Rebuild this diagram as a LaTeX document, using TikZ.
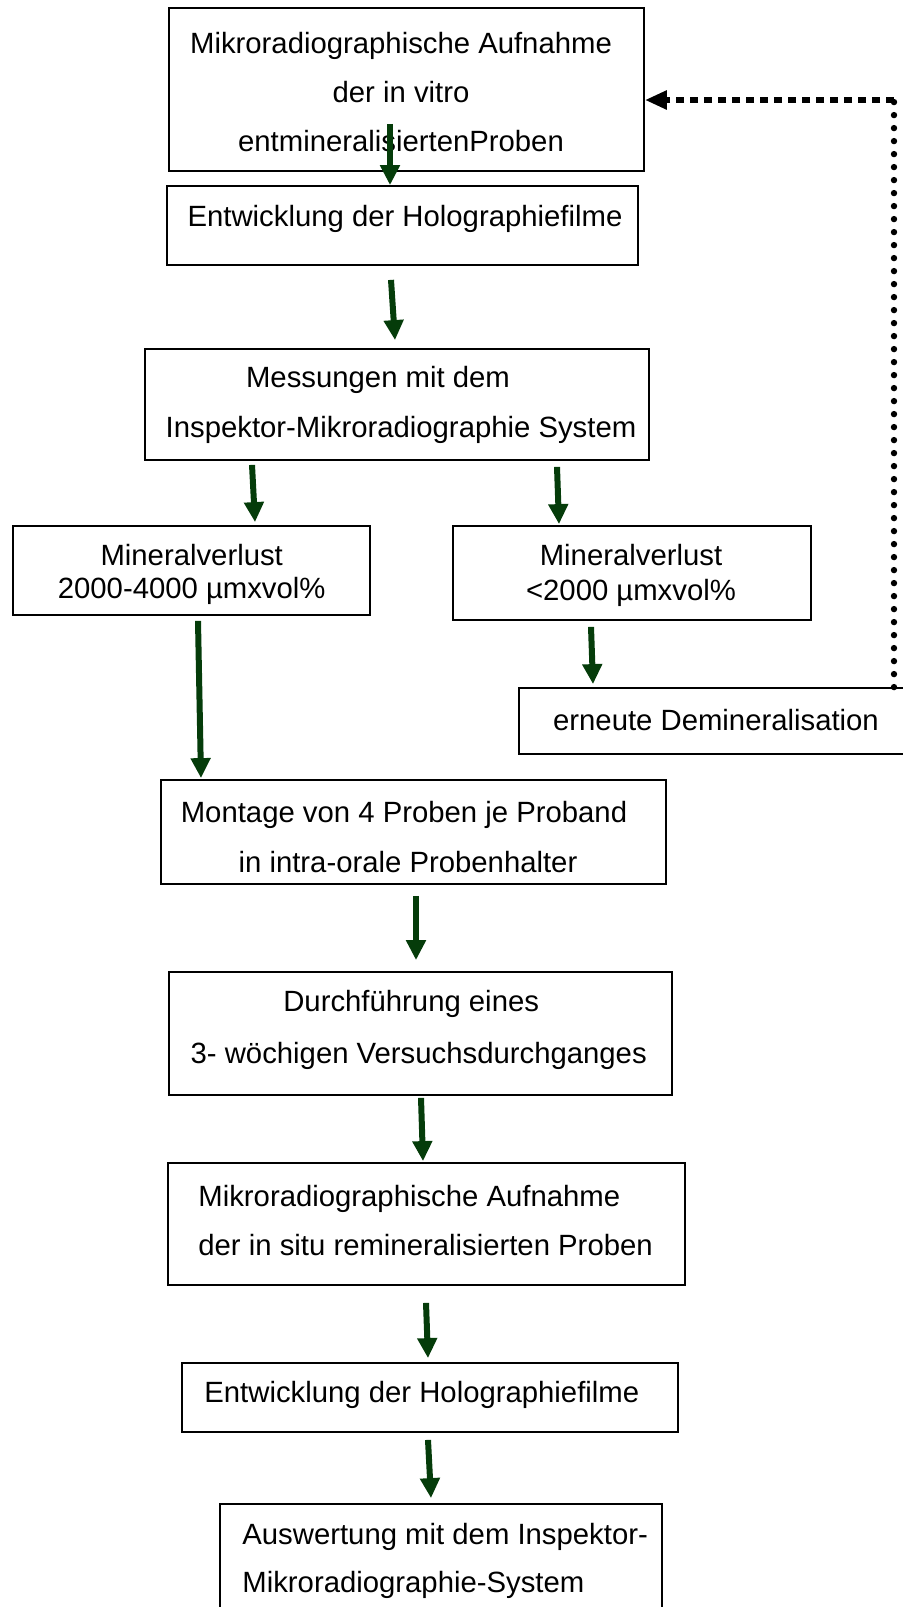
\documentclass[tikz,border=0pt]{standalone}
\usepackage{fontspec}
\setmainfont{Liberation Sans}
\usetikzlibrary{arrows.meta}
\definecolor{pfeilgruen}{RGB}{5,60,10}
\tikzset{
  kasten/.style={draw, line width=0.9pt, inner sep=0pt},
  beschr/.style={inner sep=0pt, yshift=-1.5pt},
  pfeil/.style={draw=pfeilgruen, line width=3pt, -{Triangle[length=10pt,width=9.5pt]}},
  punkte/.style={line width=3.2pt, line cap=round, dash pattern=on 0pt off 6.5pt},
  striche/.style={line width=3pt, dash pattern=on 4pt off 3pt, -{Triangle[length=11pt,width=9pt]}},
}
\begin{document}
\begin{tikzpicture}[x=0.5pt, y=-0.5pt]
      \useasboundingbox (0,0) rectangle (902,1607);
      % Kaesten
      \path
        (406.5,89.5) node[kasten, minimum width=237.5pt, minimum height=81.5pt] (mikro1){}
        (402.5,225.5) node[kasten, minimum width=235.5pt, minimum height=39.5pt] (holo1){}
        (397,404.5) node[kasten, minimum width=252pt, minimum height=55.5pt] (mess){}
        (191.5,570.5) node[kasten, minimum width=178.5pt, minimum height=44.5pt] (verlust1){}
        (632,573) node[kasten, minimum width=179pt, minimum height=47pt] (verlust2){}
        (717,721) node[kasten, minimum width=198pt, minimum height=33pt] (demin){}
        (413.5,832) node[kasten, minimum width=252.5pt, minimum height=52pt] (montage){}
        (420.5,1033.5) node[kasten, minimum width=251.5pt, minimum height=61.5pt] (versuch){}
        (426.5,1224) node[kasten, minimum width=258.5pt, minimum height=61pt] (mikro2){}
        (430,1397.5) node[kasten, minimum width=248pt, minimum height=34.5pt] (holo2){}
        (441,1560) node[kasten, minimum width=221pt, minimum height=56pt] (auswert){};
      % Texte
      \path
        (401,89) node[beschr, align=center, font=\fontsize{14.65}{24.5}\selectfont] (mikro1t)
          {Mikroradiographische Aufnahme\\der in vitro\hspace*{5pt}\\entmineralisiertenProben}
        (405,216) node[beschr, font=\fontsize{14.65}{17}\selectfont] (holo1t)
          {Entwicklung der Holographiefilme}
        (401,402) node[beschr, align=center, font=\fontsize{14.65}{25}\selectfont] (messt)
          {Messungen mit dem\hspace*{23pt}\\Inspektor-Mikroradiographie System}
        (191.7,571.5) node[beschr, align=center, font=\fontsize{14.65}{16.5}\selectfont] (verlust1t)
          {Mineralverlust\\2000-4000 µmxvol\%}
        (631,572.5) node[beschr, align=center, font=\fontsize{14.65}{17.5}\selectfont] (verlust2t)
          {Mineralverlust\\<2000 µmxvol\%}
        (716,717) node[beschr, font=\fontsize{14.65}{17}\selectfont] (demint)
          {erneute Demineralisation}
        (408,834) node[beschr, align=center, font=\fontsize{14.65}{25}\selectfont] (montaget)
          {Montage von 4 Proben je Proband\hspace*{4pt}\\in intra-orale Probenhalter}
        (418.7,1027) node[beschr, align=center, font=\fontsize{14.65}{26}\selectfont] (versucht)
          {Durchführung eines\hspace*{7.5pt}\\3- wöchigen Versuchsdurchganges}
        (198,1217.5) node[beschr, anchor=west, align=left, font=\fontsize{14.65}{24.5}\selectfont] (mikro2t)
          {Mikroradiographische Aufnahme\\der in situ remineralisierten Proben}
        (204,1392) node[beschr, anchor=west, font=\fontsize{14.65}{17}\selectfont] (holo2t)
          {Entwicklung der Holographiefilme}
        (242,1558) node[beschr, anchor=west, align=left, font=\fontsize{14.65}{24}\selectfont] (auswertt)
          {Auswertung mit dem Inspektor-\\Mikroradiographie-System};
      % Pfeile
      \begin{scope}[pfeil]
        \draw ([shift={(-16.5,-48)}]mikro1.south) to ([shift={(-12.5,0)}]holo1.north);
        \draw ([shift={(-11.5,14)}]holo1.south) to ([shift={(-2,-8)}]mess.north);
        \draw ([shift={(-145,4)}]mess.south) to ([shift={(63.5,-3)}]verlust1.north);
        \draw ([shift={(160,6)}]mess.south) to ([shift={(-73,-1)}]verlust2.north);
        \draw ([shift={(-41,6)}]verlust2.south) to ([shift={(-124,-3)}]demin.north);
        \draw ([shift={(6.5,5)}]verlust1.south) to ([shift={(-212.5,-1)}]montage.north);
        \draw ([shift={(2.5,11)}]montage.south) to ([shift={(-4.5,-11)}]versuch.north);
        \draw ([shift={(0.5,2)}]versuch.south) to ([shift={(-3.5,-1)}]mikro2.north);
        \draw ([shift={(-0.5,17)}]mikro2.south) to ([shift={(-2,-4)}]holo2.north);
        \draw ([shift={(-2,7)}]holo2.south) to ([shift={(-10,-5)}]auswert.north);
      \end{scope}
      % Rueckfuehrung
      \coordinate (ecke) at (894,100);
      \draw[punkte] ([shift={(177,0)}]demin.north) -- (ecke);
      \draw[striche] (ecke) -- ([shift={(0,10.5)}]mikro1.east);
\end{tikzpicture}
\end{document}
